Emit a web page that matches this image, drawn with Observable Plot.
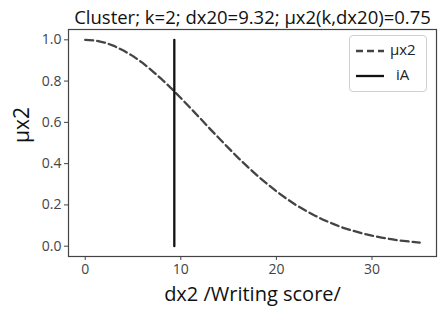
<!DOCTYPE html>
<html>
<head>
<meta charset="utf-8">
<script src="https://cdn.jsdelivr.net/npm/d3@7"></script>
<script src="https://cdn.jsdelivr.net/npm/@observablehq/plot@0.6"></script>
<style>
  html, body { margin: 0; padding: 0; background: #fff; }
  #wrap { position: relative; width: 438px; height: 313px; font-family: "Open Sans", sans-serif; }
  #legend { position: absolute; left: 349px; top: 35px; width: 78px; height: 57px; border: 1px solid #d0d0d0; border-radius: 4px; background: #fff; box-sizing: border-box; font-size: 15px; color: #222; }
  .row { position: absolute; left: 0; width: 100%; height: 20px; }
  .row svg { position: absolute; left: 5px; top: 5px; }
  .row span { position: absolute; left: 40px; top: -1px; }
</style>
</head>
<body>
<div id="wrap"></div>
<script>
const title = "Cluster; k=2; dx20=9.32; \u03bcx2(k,dx20)=0.75";
const xLabel = "dx2 /Writing score/";
const yLabel = "\u03bcx2";
const seriesNames = ["\u03bcx2", "iA"];
const dx = [0,1,2,3,4,5,6,7,8,9,10,11,12,13,14,15,16,17,18,19,20,21,22,23,24,25,26,27,28,29,30,31,32,33,34,35];
const mu = [1.000,0.997,0.987,0.971,0.948,0.921,0.888,0.850,0.809,0.765,0.718,0.670,0.621,0.571,0.523,0.475,0.428,0.384,0.342,0.303,0.266,0.232,0.201,0.174,0.149,0.126,0.107,0.089,0.075,0.062,0.051,0.042,0.034,0.027,0.022,0.017];
const iAx = [9.32, 9.32];
const iAy = [0, 1];
const xTicks = [0, 10, 20, 30];
const yTicks = [0.0, 0.2, 0.4, 0.6, 0.8, 1.0];

const curve = dx.map((d, i) => ({x: d, y: mu[i]}));
const vline = iAx.map((d, i) => ({x: d, y: iAy[i]}));

const plot = Plot.plot({
  width: 438,
  height: 313,
  marginLeft: 68,
  marginRight: 2,
  marginTop: 29,
  marginBottom: 57,
  style: {fontFamily: "Open Sans, sans-serif", background: "#fff"},
  x: {domain: [-1.75, 36.75], ticks: xTicks, label: null},
  y: {domain: [-0.05, 1.05], ticks: yTicks, label: null},
  marks: [
    Plot.frame({stroke: "#444", strokeWidth: 1.2}),
    Plot.axisX({ticks: xTicks, tickSize: 4, tickPadding: 4, fontSize: 14, color: "#444", label: null}),
    Plot.axisY({ticks: yTicks, tickSize: 4, tickPadding: 3, fontSize: 14, color: "#444", tickFormat: d3.format(".1f"), label: null}),
    Plot.line(curve, {x: "x", y: "y", stroke: "#444", strokeWidth: 2.3, strokeDasharray: "8,4"}),
    Plot.line(vline, {x: "x", y: "y", stroke: "#111", strokeWidth: 2.3}),
    Plot.text([title], {frameAnchor: "top", dy: -19, fontSize: 18.5, fill: "#111"}),
    Plot.text([xLabel], {frameAnchor: "bottom", dy: 44, fontSize: 20, fill: "#111"}),
    Plot.text([yLabel], {frameAnchor: "left", dx: -46, rotate: -90, fontSize: 21, fill: "#111"})
  ]
});

const wrap = document.getElementById("wrap");
wrap.appendChild(plot);

const legend = document.createElement("div");
legend.id = "legend";
legend.innerHTML = `
  <div class="row" style="top:4px"><svg width="30" height="12"><line x1="1" y1="6" x2="29" y2="6" stroke="#444" stroke-width="2.3" stroke-dasharray="7,4"/></svg><span>${seriesNames[0]}</span></div>
  <div class="row" style="top:29px"><svg width="30" height="12"><line x1="1" y1="6" x2="29" y2="6" stroke="#111" stroke-width="2.3"/></svg><span style="left:46px">${seriesNames[1]}</span></div>`;
wrap.appendChild(legend);
</script>
</body>
</html>
